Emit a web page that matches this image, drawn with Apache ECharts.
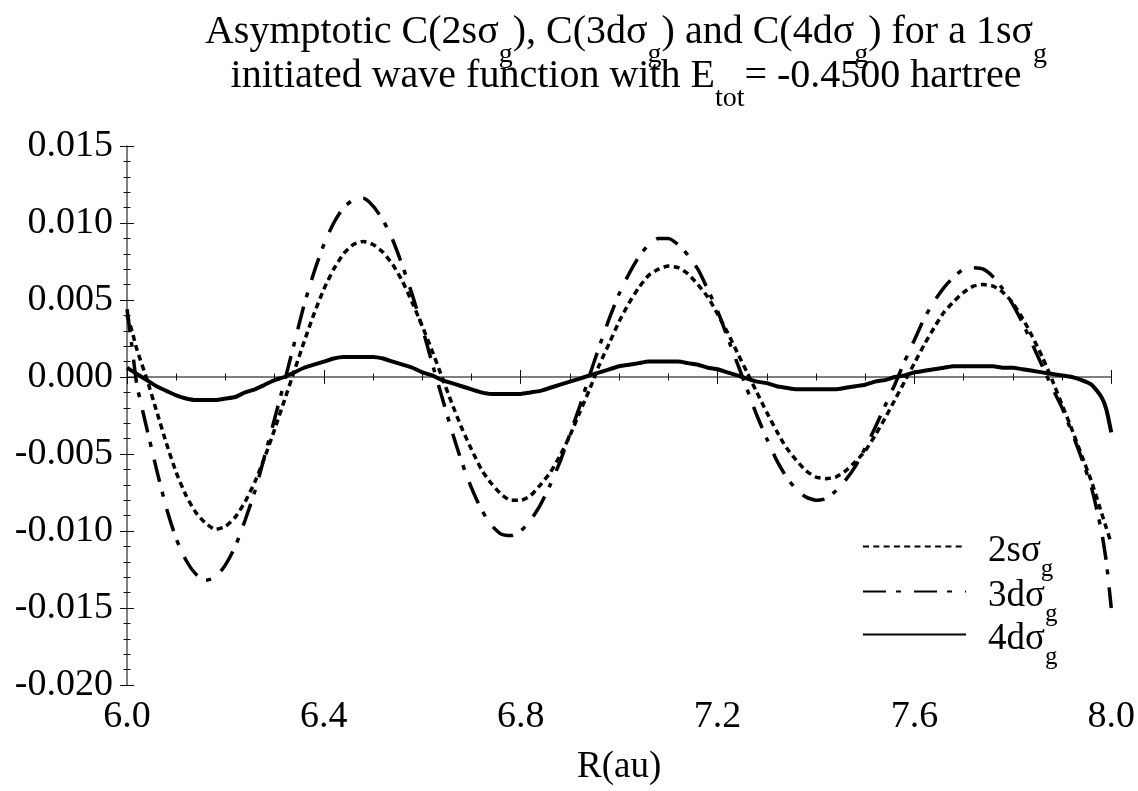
<!DOCTYPE html>
<html>
<head>
<meta charset="utf-8">
<script src="https://cdn.jsdelivr.net/npm/echarts@6/dist/echarts.min.js"></script>
<style>
html,body{margin:0;padding:0;background:#fff;}
#c{width:1138px;height:791px;}
</style>
</head>
<body>
<div id="c"></div>
<script>
// R (au) sample positions
const R = [
6.00, 6.01, 6.02, 6.04, 6.06, 6.08, 6.10, 6.12, 6.14, 6.16,
6.18, 6.20, 6.22, 6.24, 6.26, 6.28, 6.30, 6.32, 6.34, 6.36,
6.38, 6.40, 6.42, 6.44, 6.46, 6.48, 6.50, 6.52, 6.54, 6.56,
6.58, 6.60, 6.62, 6.64, 6.66, 6.68, 6.70, 6.72, 6.74, 6.76,
6.78, 6.80, 6.82, 6.84, 6.86, 6.88, 6.90, 6.92, 6.94, 6.96,
6.98, 7.00, 7.02, 7.04, 7.06, 7.08, 7.10, 7.12, 7.14, 7.16,
7.18, 7.20, 7.22, 7.24, 7.26, 7.28, 7.30, 7.32, 7.34, 7.36,
7.38, 7.40, 7.42, 7.44, 7.46, 7.48, 7.50, 7.52, 7.54, 7.56,
7.58, 7.60, 7.62, 7.64, 7.66, 7.68, 7.70, 7.72, 7.74, 7.76,
7.78, 7.80, 7.82, 7.84, 7.86, 7.88, 7.90, 7.92, 7.94, 7.96,
7.98, 7.99, 8.00
];
// C(2s sigma_g)
const C2s = [
0.0040, 0.0030, 0.0018, -0.0001, -0.0022, -0.0043, -0.0062, -0.0077, -0.0088, -0.0095,
-0.0099, -0.0097, -0.0091, -0.0081, -0.0068, -0.0052, -0.0034, -0.0015, 0.0004, 0.0023,
0.0041, 0.0057, 0.0070, 0.0080, 0.0086, 0.0088, 0.0086, 0.0081, 0.0073, 0.0062,
0.0048, 0.0033, 0.0017, 0.0000, -0.0017, -0.0033, -0.0047, -0.0060, -0.0069, -0.0076,
-0.0080, -0.0080, -0.0077, -0.0070, -0.0062, -0.0051, -0.0038, -0.0023, -0.0008, 0.0008,
0.0022, 0.0036, 0.0048, 0.0058, 0.0066, 0.0070, 0.0072, 0.0071, 0.0067, 0.0060,
0.0052, 0.0041, 0.0029, 0.0016, 0.0003, -0.0010, -0.0023, -0.0035, -0.0046, -0.0054,
-0.0061, -0.0065, -0.0066, -0.0065, -0.0061, -0.0055, -0.0048, -0.0038, -0.0027, -0.0015,
-0.0003, 0.0009, 0.0021, 0.0032, 0.0042, 0.0049, 0.0055, 0.0059, 0.0060, 0.0059,
0.0055, 0.0048, 0.0038, 0.0026, 0.0013, -0.0002, -0.0018, -0.0034, -0.0051, -0.0068,
-0.0088, -0.0098, -0.0108
];
// C(3d sigma_g)
const C3d = [
0.0044, 0.0020, -0.0005, -0.0033, -0.0060, -0.0085, -0.0105, -0.0119, -0.0128, -0.0132,
-0.0130, -0.0122, -0.0110, -0.0093, -0.0074, -0.0051, -0.0027, -0.0003, 0.0022, 0.0047,
0.0068, 0.0086, 0.0100, 0.0110, 0.0115, 0.0116, 0.0111, 0.0102, 0.0089, 0.0072,
0.0053, 0.0032, 0.0009, -0.0013, -0.0035, -0.0055, -0.0072, -0.0086, -0.0096, -0.0102,
-0.0103, -0.0100, -0.0093, -0.0083, -0.0070, -0.0055, -0.0037, -0.0019, 0.0001, 0.0020,
0.0038, 0.0054, 0.0067, 0.0078, 0.0086, 0.0090, 0.0090, 0.0086, 0.0079, 0.0070,
0.0057, 0.0043, 0.0026, 0.0009, -0.0008, -0.0025, -0.0040, -0.0054, -0.0065, -0.0073,
-0.0078, -0.0080, -0.0079, -0.0074, -0.0067, -0.0058, -0.0046, -0.0033, -0.0019, -0.0005,
0.0010, 0.0024, 0.0038, 0.0049, 0.0058, 0.0065, 0.0070, 0.0071, 0.0070, 0.0065,
0.0057, 0.0047, 0.0035, 0.0021, 0.0007, -0.0007, -0.0020, -0.0036, -0.0053, -0.0072,
-0.0100, -0.0120, -0.0150
];
// C(4d sigma_g)
const C4d = [
0.0006, 0.0004, 0.0002, -0.0002, -0.0006, -0.0009, -0.0012, -0.0014, -0.0015, -0.0015,
-0.0015, -0.0014, -0.0013, -0.0010, -0.0008, -0.0005, -0.0002, 0.0000, 0.0003, 0.0006,
0.0008, 0.0010, 0.0012, 0.0013, 0.0013, 0.0013, 0.0013, 0.0012, 0.0010, 0.0008,
0.0006, 0.0003, 0.0001, -0.0002, -0.0004, -0.0006, -0.0008, -0.0010, -0.0011, -0.0011,
-0.0011, -0.0011, -0.0010, -0.0009, -0.0007, -0.0005, -0.0003, -0.0001, 0.0001, 0.0003,
0.0005, 0.0007, 0.0008, 0.0009, 0.0010, 0.0010, 0.0010, 0.0010, 0.0009, 0.0008,
0.0006, 0.0005, 0.0003, 0.0001, -0.0001, -0.0003, -0.0004, -0.0006, -0.0007, -0.0008,
-0.0008, -0.0008, -0.0008, -0.0008, -0.0007, -0.0006, -0.0005, -0.0003, -0.0002, 0.0000,
0.0001, 0.0003, 0.0004, 0.0005, 0.0006, 0.0007, 0.0007, 0.0007, 0.0007, 0.0007,
0.0006, 0.0006, 0.0005, 0.0004, 0.0003, 0.0002, 0.0001, 0.0000, -0.0002, -0.0005,
-0.0013, -0.0021, -0.0036
];
// series names: main part _ subscript
const seriesNames = ['2sσ_g', '3dσ_g', '4dσ_g'];
const xTicks = {min: 6.0, max: 8.0, interval: 0.4};
const yTicks = {min: -0.020, max: 0.015, interval: 0.005};

const FONT = 'Liberation Serif';
const pairs = ys => R.map((r, i) => [r, ys[i]]);

const titleRich = {
  m: {fontFamily: FONT, fontSize: 40, lineHeight: 44, color: '#000', verticalAlign: 'top'},
  s: {fontFamily: FONT, fontSize: 28, lineHeight: 30, color: '#000', verticalAlign: 'top', padding: [29, 0, 0, 0]}
};
const titleText =
  '{m|Asymptotic C(2sσ}{s|g}{m|), C(3dσ}{s|g}{m|) and C(4dσ}{s|g}{m|) for a 1sσ}{s|g}\n' +
  '{m|initiated wave function with E}{s|tot}{m|= -0.4500 hartree}';

const legendRich = {
  m: {fontFamily: FONT, fontSize: 37, lineHeight: 40, color: '#000', verticalAlign: 'middle', padding: [9, 0, 0, 17]},
  s: {fontFamily: FONT, fontSize: 25, lineHeight: 26, color: '#000', verticalAlign: 'middle', padding: [46, 0, 0, 0]}
};
const legendTops = [511, 556, 599];
const legends = seriesNames.map((n, i) => ({
  data: [n], left: 862, top: legendTops[i], padding: 0, orient: 'vertical',
  itemWidth: 103, itemHeight: 2, selectedMode: false,
  itemStyle: {opacity: 0},
  formatter: name => { const p = name.split('_'); return '{m|' + p[0] + '}{s|' + p[1] + '}'; },
  textStyle: {rich: legendRich}
}));

const axisCommonX = {
  type: 'value', min: xTicks.min, max: xTicks.max, interval: xTicks.interval, position: 'bottom',
  splitLine: {show: false}, minorSplitLine: {show: false}
};
const axisCommonY = {
  type: 'value', min: yTicks.min, max: yTicks.max, interval: yTicks.interval, position: 'left',
  splitLine: {show: false}, minorSplitLine: {show: false}
};
const tickStyle = {color: '#111', width: 1};

const option = {
  animation: false,
  backgroundColor: '#fff',
  title: {
    text: titleText, left: 626, top: 12, textAlign: 'center', padding: 0,
    textStyle: {fontFamily: FONT, fontSize: 40, fontWeight: 'normal', color: '#000', rich: titleRich}
  },
  legend: legends,
  grid: {left: 127, right: 26, top: 146, bottom: 100, containLabel: false},
  xAxis: [
    Object.assign({}, axisCommonX, {
      name: 'R(au)', nameLocation: 'middle', nameGap: 64,
      nameTextStyle: {fontFamily: FONT, fontSize: 37, color: '#000'},
      axisLine: {show: true, lineStyle: {color: '#555', width: 1.5}},
      axisTick: {show: true, inside: false, length: 7, lineStyle: tickStyle},
      minorTick: {show: true, splitNumber: 4, length: 3.5, lineStyle: tickStyle},
      axisLabel: {margin: 13, fontFamily: FONT, fontSize: 38, color: '#000', formatter: v => v.toFixed(1)}
    }),
    Object.assign({}, axisCommonX, {
      axisLine: {show: false},
      axisTick: {show: true, inside: true, length: 7, lineStyle: tickStyle},
      minorTick: {show: true, splitNumber: 4, length: 3.5, lineStyle: tickStyle},
      axisLabel: {show: false}
    })
  ],
  yAxis: [
    Object.assign({}, axisCommonY, {
      axisLine: {show: true, lineStyle: {color: '#555', width: 1.5}},
      axisTick: {show: true, inside: false, length: 7, lineStyle: tickStyle},
      minorTick: {show: true, splitNumber: 5, length: 3.5, lineStyle: tickStyle},
      axisLabel: {margin: 14, fontFamily: FONT, fontSize: 38, color: '#000', formatter: v => v.toFixed(3)}
    }),
    Object.assign({}, axisCommonY, {
      axisLine: {show: false},
      axisTick: {show: true, inside: true, length: 7, lineStyle: tickStyle},
      minorTick: {show: true, splitNumber: 5, length: 3.5, lineStyle: tickStyle},
      axisLabel: {show: false}
    })
  ],
  series: [
    {name: seriesNames[0], type: 'line', data: pairs(C2s), symbol: 'none', smooth: 0.2,
     lineStyle: {color: '#000', width: 3.5, type: [6, 4.3], cap: 'butt'}, itemStyle: {color: '#000'}},
    {name: seriesNames[1], type: 'line', data: pairs(C3d), symbol: 'none', smooth: 0.2,
     lineStyle: {color: '#000', width: 3.5, type: [23, 10, 5, 13], cap: 'butt'}, itemStyle: {color: '#000'}},
    {name: seriesNames[2], type: 'line', data: pairs(C4d), symbol: 'none', smooth: 0.2,
     lineStyle: {color: '#000', width: 4, type: 'solid'}, itemStyle: {color: '#000'}}
  ]
};
const chart = echarts.init(document.getElementById('c'), null, {renderer: 'canvas'});
chart.setOption(option);
</script>
</body>
</html>
